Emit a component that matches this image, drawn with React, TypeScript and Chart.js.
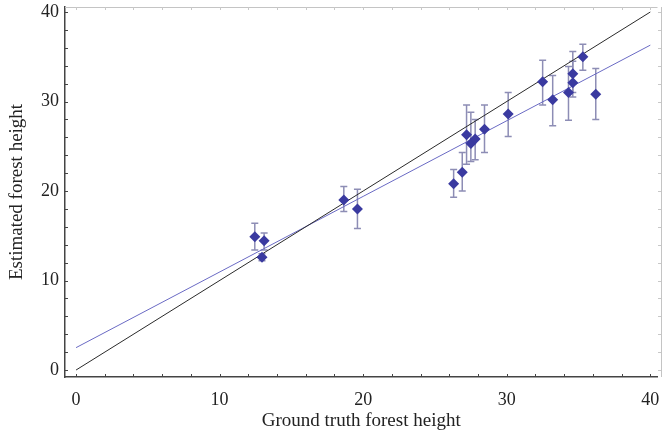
import React, { useEffect, useRef } from "react";
import { Chart, registerables } from "chart.js";

Chart.register(...registerables);

const groundTruth = [12.45, 13.1, 12.95, 18.65, 19.6, 26.3, 26.9, 27.2, 27.5, 27.8, 28.45, 30.1, 32.5, 33.2, 34.3, 34.6, 34.6, 35.3, 36.2];
const estimated = [14.9, 14.45, 12.6, 19.0, 18.0, 20.8, 22.1, 26.3, 25.3, 25.8, 26.9, 28.6, 32.2, 30.2, 31.0, 32.1, 33.1, 35.0, 30.8];
const errLow = [13.4, 13.4, 12.2, 17.7, 15.8, 19.3, 20.0, 23.0, 23.3, 23.5, 24.3, 26.1, 29.6, 27.3, 27.9, 30.5, 31.0, 33.5, 28.0];
const errHigh = [16.4, 15.3, 13.0, 20.5, 20.2, 22.4, 24.3, 29.6, 28.8, 28.0, 29.6, 31.0, 34.6, 32.9, 33.9, 34.5, 35.6, 36.4, 33.7];

const identityX = [0, 40];
const identityY = [0, 40];
const fitX = [0, 40];
const fitY = [2.5, 36.3];

const xTicks = [0, 10, 20, 30, 40];
const yTicks = [0, 10, 20, 30, 40];
const minorStep = 2;

const FONT = "'Liberation Serif', 'DejaVu Serif', serif";

const errorBarPlugin = {
  id: "errorBars",
  beforeDatasetsDraw(chart: any) {
    const ctx = chart.ctx;
    const xs = chart.scales.x;
    const ys = chart.scales.y;
    ctx.save();
    ctx.strokeStyle = "#8d8db5";
    ctx.lineWidth = 1.5;
    for (let i = 0; i < groundTruth.length; i++) {
      const px = xs.getPixelForValue(groundTruth[i]);
      const pLo = ys.getPixelForValue(errLow[i]);
      const pHi = ys.getPixelForValue(errHigh[i]);
      ctx.beginPath();
      ctx.moveTo(px, pLo);
      ctx.lineTo(px, pHi);
      ctx.moveTo(px - 3.5, pLo);
      ctx.lineTo(px + 3.5, pLo);
      ctx.moveTo(px - 3.5, pHi);
      ctx.lineTo(px + 3.5, pHi);
      ctx.stroke();
    }
    ctx.restore();
  },
};

const framePlugin = {
  id: "frameTicks",
  afterDraw(chart: any) {
    const ctx = chart.ctx;
    const xs = chart.scales.x;
    const ys = chart.scales.y;
    const a = chart.chartArea;
    ctx.save();
    ctx.strokeStyle = "#c4c4c4";
    ctx.lineWidth = 1;
    ctx.beginPath();
    ctx.moveTo(a.left, a.top + 0.5);
    ctx.lineTo(a.right, a.top + 0.5);
    ctx.moveTo(661.5, a.top);
    ctx.lineTo(661.5, a.bottom);
    ctx.stroke();
    for (let v = 0; v <= 40; v += minorStep) {
      const px = Math.round(xs.getPixelForValue(v)) + 0.5;
      const py = Math.round(ys.getPixelForValue(v)) + 0.5;
      ctx.strokeStyle = "#444";
      ctx.beginPath();
      ctx.moveTo(px, a.bottom);
      ctx.lineTo(px, a.bottom - 3);
      ctx.moveTo(a.left, py);
      ctx.lineTo(a.left + 3, py);
      ctx.stroke();
      ctx.strokeStyle = "#c8c8c8";
      ctx.beginPath();
      ctx.moveTo(px, a.top);
      ctx.lineTo(px, a.top + 3);
      ctx.moveTo(661, py);
      ctx.lineTo(658, py);
      ctx.stroke();
    }
    ctx.restore();
  },
};

function zeroPad(s: any) {
  s.paddingTop = 0;
  s.paddingBottom = 0;
  s.paddingLeft = 0;
  s.paddingRight = 0;
}

export default function App() {
  const ref = useRef<HTMLCanvasElement | null>(null);
  useEffect(() => {
    if (!ref.current) return;
    const chart = new Chart(ref.current, {
      type: "scatter",
      data: {
        datasets: [
          {
            type: "line",
            data: identityX.map((x, i) => ({ x, y: identityY[i] })),
            borderColor: "#2a2a2a",
            borderWidth: 1,
            pointRadius: 0,
            order: 2,
          } as any,
          {
            type: "line",
            data: fitX.map((x, i) => ({ x, y: fitY[i] })),
            borderColor: "#6a6ac4",
            borderWidth: 1,
            pointRadius: 0,
            order: 2,
          } as any,
          {
            data: groundTruth.map((x, i) => ({ x, y: estimated[i] })),
            pointStyle: "rectRot",
            pointRadius: 5.5,
            backgroundColor: "#3a3aa0",
            borderColor: "#3a3aa0",
            borderWidth: 0,
            order: 1,
          },
        ],
      },
      options: {
        animation: false,
        responsive: false,
        events: [],
        layout: { padding: { top: 7, right: 0, left: 0, bottom: 0 } },
        plugins: { legend: { display: false }, tooltip: { enabled: false } },
        scales: {
          x: {
            type: "linear",
            min: -0.77,
            max: 40.5,
            afterBuildTicks: (s: any) => {
              s.ticks = xTicks.map((v) => ({ value: v }));
            },
            afterFit: (s: any) => {
              s.height = 57;
              zeroPad(s);
            },
            grid: { display: true, drawOnChartArea: false, drawTicks: false },
            border: { display: true, color: "#444", width: 1.5 },
            ticks: {
              padding: 12,
              color: "#222",
              font: { family: FONT, size: 18 },
              callback: (v: any) => String(v),
            },
            title: {
              display: true,
              text: "Ground truth forest height",
              color: "#222",
              font: { family: FONT, size: 19 },
              padding: { top: 0, bottom: 2 },
            },
          },
          y: {
            type: "linear",
            min: -0.78,
            max: 40.56,
            afterBuildTicks: (s: any) => {
              s.ticks = yTicks.map((v) => ({ value: v }));
            },
            afterFit: (s: any) => {
              s.width = 65;
              zeroPad(s);
            },
            grid: { display: true, drawOnChartArea: false, drawTicks: false },
            border: { display: true, color: "#444", width: 1.5 },
            ticks: {
              padding: 6,
              color: "#222",
              font: { family: FONT, size: 18 },
              callback: (v: any) => String(v),
            },
            title: {
              display: true,
              text: "Estimated forest height",
              color: "#222",
              font: { family: FONT, size: 19 },
              padding: { top: 6, bottom: 0 },
            },
          },
        },
      },
      plugins: [errorBarPlugin, framePlugin],
    } as any);
    return () => chart.destroy();
  }, []);
  return (
    <div style={{ position: "absolute", left: 0, top: 0, width: 663, height: 434, background: "#fff" }}>
      <canvas ref={ref} width={663} height={434} />
    </div>
  );
}
